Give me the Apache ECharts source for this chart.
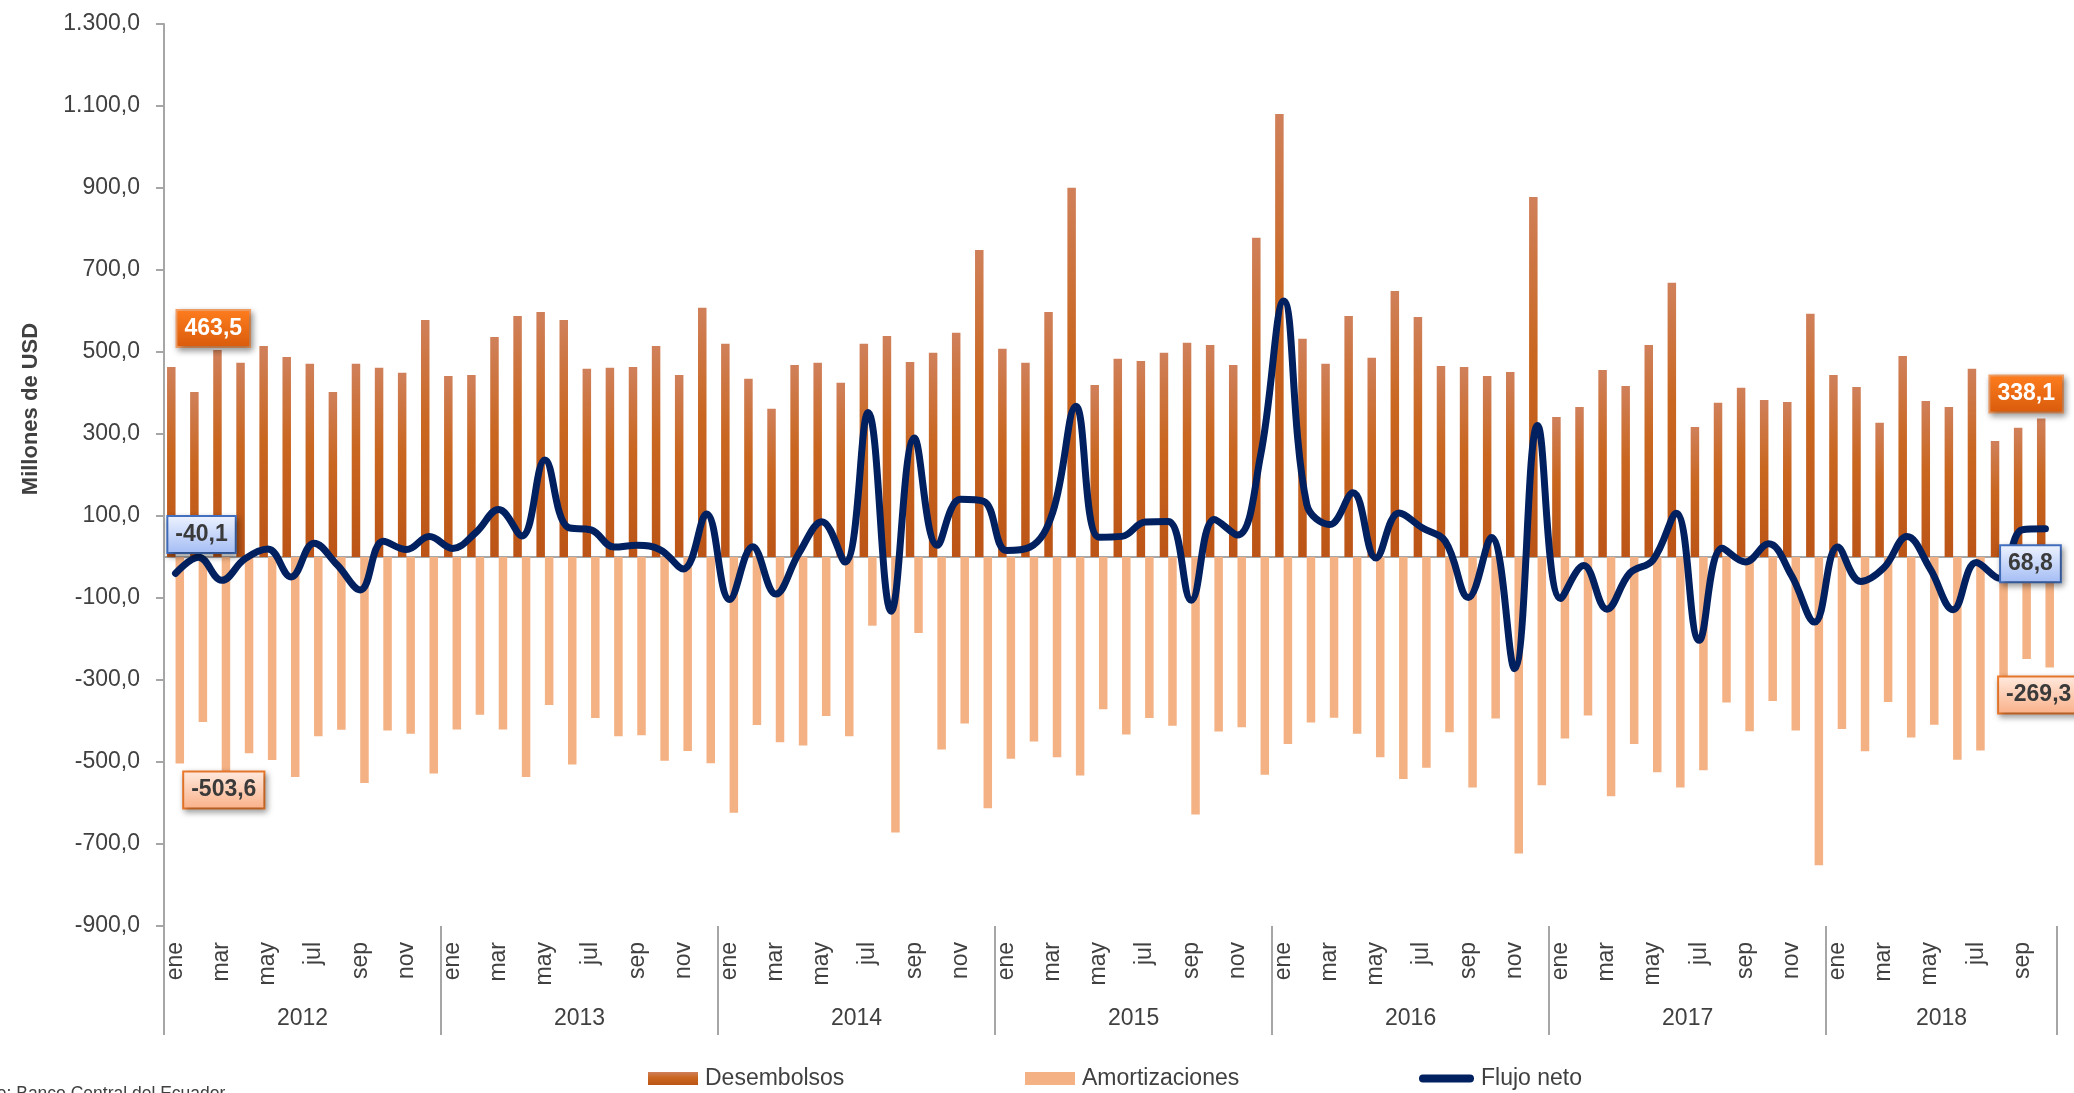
<!DOCTYPE html>
<html>
<head>
<meta charset="utf-8">
<script src="https://cdn.jsdelivr.net/npm/echarts@6/dist/echarts.min.js"></script>
<style>
html,body{margin:0;padding:0;background:#ffffff;}
#chart{width:2074px;height:1093px;}
</style>
</head>
<body>
<div id="chart"></div>
<script>
// ---------------- DATA ----------------
const monthNames = ['ene','feb','mar','abr','may','jun','jul','ago','sep','oct','nov','dic'];
const yearLabels = ['2012','2013','2014','2015','2016','2017','2018'];
const monthsPerYear = [12,12,12,12,12,12,10];

const desembolsos = [
  463.5, 402.3, 505.1, 473.7, 514.7, 487.7, 471.1, 402.3, 471.1, 461.6, 449.4, 578.2,
  441.5, 444.1, 536.4, 587.8, 597.4, 578.2, 458.9, 461.6, 463.3, 514.7, 444.1, 607.9,
  519.9, 434.6, 361.4, 468.5, 473.7, 425.0, 519.9, 539.1, 475.5, 498.1, 546.9, 748.9,
  507.7, 473.7, 597.4, 900.5, 419.8, 483.3, 478.1, 498.1, 522.5, 517.3, 468.5, 778.5,
  1080.7, 532.1, 471.1, 587.8, 485.9, 648.8, 585.2, 465.9, 463.3, 441.5, 451.1, 877.8,
  341.4, 365.8, 456.3, 417.1, 517.3, 668.8, 317.0, 376.2, 412.8, 383.2, 378.0, 593.1,
  444.1, 414.5, 327.4, 490.3, 380.6, 365.8, 458.9, 283.0, 315.2, 338.1
];
const amortizaciones = [
  -503.6, -402.7, -562.0, -478.4, -495.3, -536.3, -437.4, -421.4, -551.4, -423.2, -431.2, -528.3,
  -420.5, -384.9, -420.5, -536.3, -360.8, -506.0, -392.9, -437.4, -434.7, -497.1, -473.1, -503.3,
  -623.6, -409.8, -451.7, -459.7, -387.5, -437.4, -167.5, -671.7, -185.3, -469.5, -406.2, -612.9,
  -491.8, -449.9, -488.2, -532.7, -371.5, -433.0, -392.9, -411.6, -628.1, -425.8, -415.1, -531.0,
  -456.1, -403.6, -392.0, -431.2, -488.2, -541.6, -514.0, -427.6, -562.1, -393.8, -723.4, -556.8,
  -442.8, -386.6, -583.5, -456.1, -524.7, -562.1, -520.3, -354.6, -424.9, -351.0, -423.2, -751.9,
  -419.6, -474.0, -353.7, -440.1, -408.9, -494.4, -472.2, -335.0, -248.6, -269.3
];
const flujoNeto = [
  -40.1, -0.4, -56.9, -4.7, 19.4, -48.6, 33.7, -19.1, -80.3, 38.4, 18.2, 49.9,
  21.0, 59.2, 115.9, 51.5, 236.6, 72.2, 66.0, 24.2, 28.6, 17.6, -29.0, 104.6,
  -103.7, 24.8, -90.3, 8.8, 86.2, -12.4, 352.4, -132.6, 290.2, 28.6, 140.7, 136.0,
  15.9, 23.8, 109.2, 367.8, 48.3, 50.3, 85.2, 86.5, -105.6, 91.5, 53.4, 247.5,
  624.6, 128.5, 79.1, 156.6, -2.3, 107.2, 71.2, 38.3, -98.8, 47.7, -272.3, 321.0,
  -101.4, -20.8, -127.2, -39.0, -7.4, 106.7, -203.3, 21.6, -12.1, 32.2, -45.2, -158.8,
  24.5, -59.5, -26.3, 50.2, -28.3, -128.6, -13.3, -52.0, 66.6, 68.8
];
const yMin = -900, yMax = 1300, yStep = 200;
const yAxisTitle = 'Millones de USD';
const sourceText = 'Fuente: Banco Central del Ecuador';

// ---------------- BUILD ----------------
const FONT = "'Liberation Sans',Arial,sans-serif";
const FS = 23;
const TXT = '#404040';
const GRAY = '#A6A6A6';

const categories = [];
const yearStarts = [];
const yearCenters = {};
let k = 0;
yearLabels.forEach((y, i) => {
  yearStarts.push(k);
  yearCenters[k + monthsPerYear[i] / 2] = y;
  for (let m = 0; m < monthsPerYear[i]; m++) { categories.push(y + '-' + monthNames[m]); k++; }
});
const N = categories.length;

function fmt(v) {
  const neg = v < 0;
  const parts = Math.abs(v).toFixed(1).split('.');
  const ip = parts[0].replace(/\B(?=(\d{3})+(?!\d))/g, '.');
  return (neg ? '-' : '') + ip + ',' + parts[1];
}

const G = echarts.graphic.LinearGradient;
const desGrad = new G(0, 0, 0, 1, [
  {offset: 0, color: '#D0805A'}, {offset: 0.45, color: '#C9661F'}, {offset: 1, color: '#BB5416'}
]);
const boxShadow = {shadowColor: 'rgba(0,0,0,0.35)', shadowBlur: 6, shadowOffsetX: 2, shadowOffsetY: 3};
const labelBase = Object.assign({
  show: true, fontFamily: FONT, fontSize: 23, fontWeight: 'bold', padding: [6, 7],
  borderWidth: 2, formatter: p => fmt(p.value)
}, boxShadow);

const desLabel = Object.assign({}, labelBase, {
  color: '#ffffff', borderColor: '#F5A066',
  backgroundColor: new G(0, 0, 0, 1, [{offset: 0, color: '#FF7D1E'}, {offset: 1, color: '#D85B0C'}])
});
const amLabel = Object.assign({}, labelBase, {
  color: '#3A3A3A', borderColor: '#F07B2C',
  backgroundColor: new G(0, 0, 0, 1, [{offset: 0, color: '#FFEADF'}, {offset: 1, color: '#FAB088'}])
});
const netLabel = Object.assign({}, labelBase, {
  color: '#3A3A3A', borderColor: '#4472C4',
  backgroundColor: new G(0, 0, 0, 1, [{offset: 0, color: '#EEF3FF'}, {offset: 1, color: '#A3BCF4'}])
});

const desData = desembolsos.map((v, i) => {
  if (i === 0) return {value: v, label: Object.assign({}, desLabel, {position: 'top', distance: 21, offset: [42, 0]})};
  if (i === N - 1) return {value: v, label: Object.assign({}, desLabel, {position: 'top', distance: 7, offset: [-15, 0]})};
  return v;
});
const amData = amortizaciones.map((v, i) => {
  if (i === 0) return {value: v, label: Object.assign({}, amLabel, {position: 'bottom', distance: 9, offset: [44, 0]})};
  if (i === N - 1) return {value: v, label: Object.assign({}, amLabel, {position: 'bottom', distance: 10, offset: [-11, 0]})};
  return v;
});
const netData = flujoNeto.map((v, i) => {
  if (i === 0) return {value: v, label: Object.assign({}, netLabel, {position: 'inside', offset: [26, -39]})};
  if (i === N - 1) return {value: v, label: Object.assign({}, netLabel, {position: 'inside', offset: [-15, 35]})};
  return v;
});

const legendCommon = {
  top: 1062, itemWidth: 50, itemHeight: 13, padding: 5,
  textStyle: {fontFamily: FONT, fontSize: FS, color: TXT, padding: [0, 0, 0, 2]},
  selectedMode: false
};

const option = {
  animation: false,
  backgroundColor: '#ffffff',
  textStyle: {fontFamily: FONT},
  grid: {left: 164, right: 17, top: 24, bottom: 167, containLabel: false},
  legend: [
    Object.assign({}, legendCommon, {left: 643, data: [{name: 'Desembolsos', icon: 'rect'}]}),
    Object.assign({}, legendCommon, {left: 1020, data: [{name: 'Amortizaciones', icon: 'rect'}]}),
    Object.assign({}, legendCommon, {left: 1414, itemWidth: 55, itemHeight: 8,
      data: [{name: 'Flujo neto', icon: 'path://M4,0H51A4,4,0,0,1,51,8H4A4,4,0,0,1,4,0Z'}]})
  ],
  xAxis: [
    {
      type: 'category', data: categories, position: 'bottom',
      axisLine: {onZero: true, lineStyle: {color: GRAY, width: 2}},
      axisTick: {show: false}, axisLabel: {show: false}, splitLine: {show: false}
    },
    {
      type: 'category', data: categories, position: 'bottom',
      axisLine: {show: false, onZero: false},
      axisTick: {show: true, alignWithLabel: false, length: 109,
        interval: (idx) => yearStarts.indexOf(idx) >= 0,
        lineStyle: {color: GRAY, width: 2}},
      axisLabel: {show: true, rotate: 90, margin: 16, interval: (idx) => idx % 2 === 0,
        fontFamily: FONT, fontSize: FS, color: TXT,
        formatter: (v) => v.split('-')[1]},
      splitLine: {show: false}
    },
    {
      type: 'value', min: 0, max: N, interval: 1, position: 'bottom',
      axisLine: {show: false, onZero: false}, axisTick: {show: false}, splitLine: {show: false},
      axisLabel: {show: true, margin: 81, fontFamily: FONT, fontSize: FS, color: TXT,
        showMinLabel: true, showMaxLabel: true,
        formatter: (v) => (yearCenters[v] !== undefined ? yearCenters[v] : '')}
    }
  ],
  yAxis: [{
    type: 'value', min: yMin, max: yMax, interval: yStep,
    name: yAxisTitle, nameLocation: 'middle', nameGap: 122, nameRotate: 90,
    nameTextStyle: {fontFamily: FONT, fontSize: 22, fontWeight: 'bold', color: TXT, padding: [0, 0, 0, 132]},
    axisLine: {show: true, lineStyle: {color: GRAY, width: 2}},
    axisTick: {show: true, length: 8, lineStyle: {color: GRAY, width: 2}},
    axisLabel: {margin: 24, fontFamily: FONT, fontSize: FS, color: TXT, formatter: (v) => fmt(v)},
    splitLine: {show: false}
  }],
  series: [
    {name: 'Desembolsos', type: 'bar', xAxisIndex: 0, yAxisIndex: 0, barWidth: 8.5, barGap: '0%',
      itemStyle: {color: desGrad}, data: desData, z: 2},
    {name: 'Amortizaciones', type: 'bar', xAxisIndex: 0, yAxisIndex: 0, barWidth: 8.5, barGap: '0%',
      itemStyle: {color: '#F4B183'}, data: amData, z: 2},
    {name: 'Flujo neto', type: 'line', xAxisIndex: 0, yAxisIndex: 0, smooth: 0.4,
      showSymbol: true, showAllSymbol: true, symbol: 'circle', symbolSize: 0.1,
      lineStyle: {color: '#002060', width: 7, cap: 'round', join: 'round'},
      itemStyle: {color: '#002060'}, data: netData, z: 5}
  ],
  graphic: [{
    type: 'text', left: -48, top: 1085, silent: true,
    style: {text: sourceText, fontFamily: FONT, fontSize: 17.5, fill: TXT}
  }]
};

const chart = echarts.init(document.getElementById('chart'), null, {renderer: 'canvas'});
chart.setOption(option);
</script>
</body>
</html>
